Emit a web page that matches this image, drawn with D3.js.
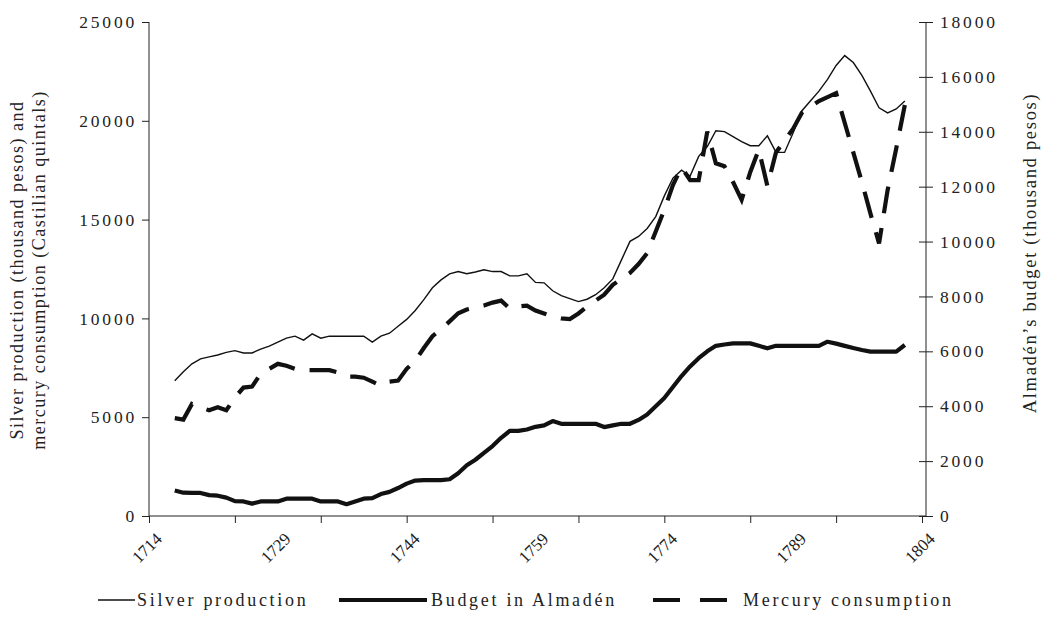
<!DOCTYPE html>
<html>
<head>
<meta charset="utf-8">
<title>Silver, mercury and Almadén budget</title>
<style>
  html, body { margin: 0; padding: 0; background: #fff; }
  svg text { font-family: "Liberation Serif", "Times New Roman", serif; fill: #222; }
  .tick text { font-size: 17.5px; letter-spacing: 2.8px; }
  .axis path, .axis line { stroke: #222; stroke-width: 1; }
  .title { font-size: 18px; letter-spacing: 1.5px; }
  .legend text { font-size: 18px; letter-spacing: 2.7px; }
</style>
<script src="https://d3js.org/d3.v7.min.js"></script>
</head>
<body>
<svg id="chart" width="1044" height="626"></svg>
<script>
// years of the series
const years = [1717,1718,1719,1720,1721,1722,1723,1724,1725,1726,1727,1728,1729,1730,1731,1732,1733,1734,1735,1736,
  1737,1738,1739,1740,1741,1742,1743,1744,1745,1746,1747,1748,1749,1750,1751,1752,1753,1754,1755,1756,
  1757,1758,1759,1760,1761,1762,1763,1764,1765,1766,1767,1768,1769,1770,1771,1772,1773,1774,1775,1776,
  1777,1778,1779,1780,1781,1782,1783,1784,1785,1786,1787,1788,1789,1790,1791,1792,1793,1794,1795,1796,
  1797,1798,1799,1800,1801,1802];

// silver production (thousand pesos) - left axis
const silver = [6850,7300,7700,7950,8050,8150,8280,8370,8250,8250,8450,8600,8800,9000,9100,8900,9220,9000,9100,9100,
  9100,9100,9100,8800,9100,9250,9600,9950,10400,10950,11550,11950,12250,12370,12260,12350,12460,12370,12370,12150,
  12150,12260,11820,11800,11400,11150,11000,10850,10970,11200,11550,12000,12950,13900,14150,14550,15150,16200,17100,17500,
  17200,18200,18700,19500,19450,19200,18950,18740,18740,19240,18400,18400,19400,20500,21000,21500,22100,22800,23300,22950,
  22300,21500,20660,20400,20600,21000];

// mercury consumption (Castilian quintals) - left axis
const mercury = [4950,4880,5670,5500,5350,5500,5350,6000,6500,6550,7200,7450,7700,7600,7450,7380,7380,7380,7380,7270,
  7050,7050,7000,6800,6600,6800,6850,7450,7850,8500,9100,9450,9850,10260,10450,10550,10650,10800,10900,10500,
  10600,10650,10400,10250,10080,10000,9970,10250,10600,10900,11200,11700,12000,12300,12750,13300,14400,15500,16750,17650,
  17000,17000,19450,17850,17700,16900,16000,17400,18550,16700,18400,19000,19600,20400,20700,21000,21200,21400,19900,18400,
  16900,15300,13800,16500,18600,20800];

// budget in Almadén (thousand pesos) - right axis
const budget = [930,850,840,840,760,740,670,540,530,450,530,530,530,630,630,630,630,530,530,530,
  430,530,630,650,800,880,1020,1180,1290,1310,1310,1310,1340,1560,1850,2050,2300,2550,2850,3100,
  3100,3150,3250,3300,3460,3360,3360,3360,3360,3360,3240,3300,3360,3360,3500,3700,4000,4300,4700,5100,
  5450,5750,6000,6200,6250,6290,6290,6290,6200,6110,6200,6200,6200,6200,6200,6200,6350,6280,6200,6120,
  6050,5990,5990,5990,5990,6230];

const xTicks = [1714,1724,1734,1744,1754,1764,1774,1784,1794,1804];
const xLabels = [1714,1729,1744,1759,1774,1789,1804];
const leftTicks = [0,5000,10000,15000,20000,25000];
const rightTicks = [0,2000,4000,6000,8000,10000,12000,14000,16000,18000];

const svg = d3.select("#chart");
const x0 = 149, x1 = 926, yTop = 22, yBot = 516;

const x = d3.scaleLinear().domain([1714, 1804]).range([x0, 922]);
const yL = d3.scaleLinear().domain([0, 25000]).range([yBot, yTop]);
const yR = d3.scaleLinear().domain([0, 18000]).range([yBot, yTop]);

// left axis
const gL = svg.append("g").attr("class", "axis")
  .attr("transform", `translate(${x0},0)`)
  .call(d3.axisLeft(yL).tickValues(leftTicks).tickSize(7).tickPadding(5).tickFormat(d3.format("d")));
gL.select(".domain").attr("d", `M0,${yBot}V${yTop}`);

// right axis, ticks cross the line
const gR = svg.append("g").attr("class", "axis")
  .attr("transform", `translate(${x1},0)`)
  .call(d3.axisRight(yR).tickValues(rightTicks).tickSize(7).tickPadding(7).tickFormat(d3.format("d")));
gR.select(".domain").attr("d", `M0,${yBot}V${yTop}`);
gR.selectAll(".tick line").attr("x1", -7).attr("x2", 7);

// x axis
const gX = svg.append("g").attr("class", "axis")
  .attr("transform", `translate(0,${yBot})`)
  .call(d3.axisBottom(x).tickValues(xTicks).tickSize(7).tickFormat(""));
gX.select(".domain").attr("d", `M${x0},0H${x1}`);

svg.append("g").selectAll("text").data(xLabels).join("text")
  .attr("transform", d => `translate(${x(d) + 14},${yBot + 24}) rotate(-45)`)
  .attr("text-anchor", "end")
  .attr("font-size", "17px")
  .text(d => d);

// lines
const lineL = s => d3.line().x((d, i) => x(years[i])).y(d => yL(d))(s);
const lineR = s => d3.line().x((d, i) => x(years[i])).y(d => yR(d))(s);

svg.append("path").attr("d", lineL(silver))
  .attr("fill", "none").attr("stroke", "#111").attr("stroke-width", 1.4);
svg.append("path").attr("d", lineR(budget))
  .attr("fill", "none").attr("stroke", "#111").attr("stroke-width", 4.2).attr("stroke-linejoin", "round");
svg.append("path").attr("d", lineL(mercury))
  .attr("fill", "none").attr("stroke", "#111").attr("stroke-width", 4.2)
  .attr("stroke-dasharray", "27,15");

// axis titles
svg.append("text").attr("class", "title")
  .attr("transform", "translate(23,270) rotate(-90)").attr("text-anchor", "middle")
  .text("Silver production (thousand pesos) and");
svg.append("text").attr("class", "title")
  .attr("transform", "translate(45,270) rotate(-90)").attr("text-anchor", "middle")
  .text("mercury consumption (Castilian quintals)");
svg.append("text").attr("class", "title")
  .attr("transform", "translate(1036,253) rotate(-90)").attr("text-anchor", "middle")
  .style("font-size", "18.5px").style("letter-spacing", "1.7px")
  .text("Almadén’s budget (thousand pesos)");

// legend
const legend = svg.append("g").attr("class", "legend");
const legY = 600;
legend.append("line").attr("x1", 98).attr("x2", 135).attr("y1", legY).attr("y2", legY)
  .attr("stroke", "#111").attr("stroke-width", 1.4);
legend.append("text").attr("x", 137).attr("y", legY + 6).text("Silver production");
legend.append("line").attr("x1", 339).attr("x2", 427).attr("y1", legY).attr("y2", legY)
  .attr("stroke", "#111").attr("stroke-width", 4.2);
legend.append("text").attr("x", 431).attr("y", legY + 6).text("Budget in Almadén");
legend.append("line").attr("x1", 653).attr("x2", 729).attr("y1", legY).attr("y2", legY)
  .attr("stroke", "#111").attr("stroke-width", 4.2).attr("stroke-dasharray", "27,20");
legend.append("text").attr("x", 743).attr("y", legY + 6).text("Mercury consumption");
</script>
</body>
</html>
